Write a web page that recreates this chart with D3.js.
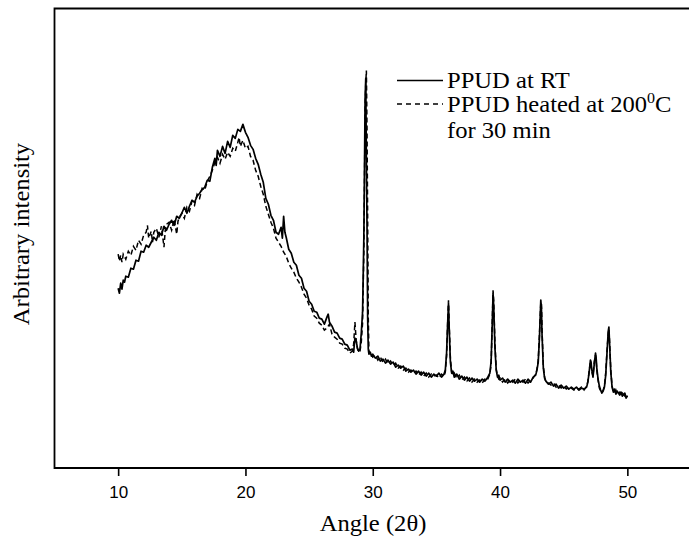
<!DOCTYPE html>
<html><head><meta charset="utf-8">
<script src="https://cdn.jsdelivr.net/npm/d3@7/dist/d3.min.js"></script>
<style>html,body{margin:0;padding:0;background:#fff;overflow:hidden}svg{display:block}</style>
</head><body>
<svg id="chart" width="689" height="538"></svg>
<script>
const xTicks = [10, 20, 30, 40, 50];
const xLabel = "Angle (2θ)";
const yLabel = "Arbitrary intensity";
const legendRT = "PPUD at RT";
const legendHeated = ["PPUD heated at 200", "0", "C"];
const legendHeated2 = "for 30 min";

// [angle (2θ), intensity (arbitrary)]
const rtData = [[10.0,180],[10.1,175],[10.2,185],[10.3,179],[10.4,188],[10.5,186],[10.6,192],[10.8,191],[11.0,200],[11.2,199],[11.4,208],[11.6,207],[11.8,217],[12.0,216],[12.2,223],[12.4,221],[12.6,226],[12.8,231],[13.0,228],[13.2,236],[13.4,233],[13.6,242],[13.8,238],[14.0,244],[14.2,248],[14.4,243],[14.6,252],[14.8,250],[15.0,255],[15.2,261],[15.4,255],[15.6,262],[15.8,268],[16.0,266],[16.2,272],[16.4,275],[16.6,279],[16.8,281],[17.0,288],[17.2,287],[17.4,301],[17.6,310],[17.7,303],[17.8,318],[18.0,312],[18.2,322],[18.4,315],[18.6,327],[18.8,321],[19.0,333],[19.2,330],[19.4,339],[19.6,337],[19.8,344],[19.9,340],[20.0,336],[20.2,331],[20.4,323],[20.6,319],[20.8,310],[21.0,304],[21.2,294],[21.4,286],[21.6,270],[21.8,264],[22.0,253],[22.2,248],[22.4,236],[22.6,234],[22.8,241],[22.9,230],[23.0,252],[23.1,236],[23.2,231],[23.4,219],[23.6,215],[23.8,206],[24.0,203],[24.2,193],[24.4,190],[24.6,180],[24.8,177],[25.0,167],[25.2,164],[25.4,157],[25.6,156],[25.8,150],[26.0,149],[26.2,144],[26.4,151],[26.5,154],[26.6,146],[26.8,142],[27.0,136],[27.2,135],[27.4,130],[27.6,129],[27.8,124],[28.0,123],[28.2,118],[28.4,119],[28.5,116],[28.6,130],[28.7,127],[28.8,120],[28.9,117],[29.0,119],[29.1,135],[29.2,156],[29.3,230],[29.4,370],[29.45,390],[29.5,310],[29.55,242],[29.6,150],[29.65,119],[29.7,114],[29.8,116],[29.9,112],[30.0,114],[30.2,110],[30.4,112],[30.6,107],[30.8,109],[31.0,105],[31.2,108],[31.4,104],[31.6,106],[31.8,101],[32.0,103],[32.2,100],[32.4,102],[32.6,97],[32.8,99],[33.0,96],[33.2,98],[33.4,94],[33.6,97],[33.8,93],[34.0,96],[34.2,92],[34.4,95],[34.6,91],[34.8,94],[35.0,92],[35.2,95],[35.4,91],[35.6,94],[35.7,98],[35.8,115],[35.9,150],[35.95,165],[36.0,142],[36.1,106],[36.2,95],[36.3,97],[36.4,91],[36.6,94],[36.8,89],[37.0,92],[37.2,88],[37.4,91],[37.6,87],[37.8,90],[38.0,87],[38.2,89],[38.4,86],[38.6,89],[38.8,87],[39.0,90],[39.2,95],[39.3,107],[39.4,150],[39.45,175],[39.5,163],[39.6,120],[39.7,98],[39.8,91],[39.9,93],[40.0,88],[40.2,90],[40.4,86],[40.6,89],[40.8,86],[41.0,88],[41.2,85],[41.4,89],[41.6,86],[41.8,88],[42.0,85],[42.2,89],[42.4,86],[42.6,91],[42.8,93],[42.9,98],[43.0,106],[43.1,132],[43.2,168],[43.25,160],[43.3,133],[43.4,100],[43.5,90],[43.6,87],[43.8,84],[44.0,86],[44.2,82],[44.4,84],[44.6,80],[44.8,83],[45.0,80],[45.2,82],[45.4,79],[45.6,81],[45.8,79],[46.0,81],[46.2,78],[46.4,80],[46.6,79],[46.8,81],[46.9,86],[47.0,96],[47.1,108],[47.15,106],[47.2,99],[47.3,91],[47.4,104],[47.5,115],[47.55,110],[47.6,100],[47.7,89],[47.8,82],[47.9,78],[48.0,75],[48.1,77],[48.2,81],[48.3,93],[48.4,115],[48.5,137],[48.55,141],[48.6,126],[48.7,96],[48.8,81],[48.9,76],[49.0,79],[49.1,74],[49.2,77],[49.4,73],[49.5,76],[49.6,72],[49.8,75],[49.9,70],[50.0,72]];

const heatedData = [[10.0,214],[10.1,207],[10.2,213],[10.3,206],[10.4,214],[10.6,209],[10.8,217],[11.0,213],[11.2,222],[11.4,218],[11.6,228],[11.8,224],[12.0,233],[12.2,236],[12.3,243],[12.4,230],[12.6,237],[12.7,226],[12.8,236],[13.0,240],[13.2,231],[13.4,242],[13.6,221],[13.7,238],[13.8,244],[14.0,246],[14.2,238],[14.4,249],[14.6,234],[14.7,247],[14.8,251],[15.0,255],[15.2,250],[15.4,261],[15.6,257],[15.8,267],[16.0,263],[16.2,274],[16.4,270],[16.6,280],[16.8,278],[17.0,287],[17.2,292],[17.4,298],[17.6,306],[17.8,311],[18.0,305],[18.2,314],[18.4,309],[18.6,316],[18.8,312],[19.0,320],[19.2,317],[19.4,326],[19.5,331],[19.6,322],[19.8,328],[20.0,320],[20.2,322],[20.4,312],[20.6,308],[20.8,298],[21.0,292],[21.2,282],[21.4,274],[21.6,262],[21.8,254],[22.0,246],[22.2,240],[22.4,230],[22.6,226],[22.8,222],[23.0,216],[23.2,212],[23.4,205],[23.6,200],[23.8,196],[24.0,190],[24.2,186],[24.4,181],[24.6,174],[24.8,170],[25.0,163],[25.2,159],[25.4,152],[25.6,150],[25.8,145],[26.0,143],[26.2,138],[26.4,140],[26.6,144],[26.8,134],[27.0,131],[27.2,129],[27.4,125],[27.6,124],[27.8,120],[28.0,119],[28.2,115],[28.4,117],[28.5,124],[28.6,146],[28.7,128],[28.8,119],[28.9,116],[29.0,117],[29.1,126],[29.2,145],[29.3,215],[29.4,360],[29.45,385],[29.5,398],[29.55,340],[29.6,250],[29.65,150],[29.7,118],[29.8,113],[29.9,114],[30.0,111],[30.2,113],[30.4,108],[30.6,111],[30.8,106],[31.0,109],[31.2,104],[31.4,107],[31.6,103],[31.8,105],[32.0,100],[32.2,102],[32.4,98],[32.6,100],[32.8,96],[33.0,98],[33.2,95],[33.4,97],[33.6,93],[33.8,96],[34.0,92],[34.2,95],[34.4,91],[34.6,94],[34.8,92],[35.0,93],[35.2,90],[35.4,94],[35.6,92],[35.7,96],[35.8,112],[35.9,152],[35.95,168],[36.0,146],[36.1,110],[36.2,96],[36.3,93],[36.4,95],[36.6,90],[36.8,93],[37.0,88],[37.2,91],[37.4,87],[37.6,90],[37.8,86],[38.0,89],[38.2,86],[38.4,88],[38.6,85],[38.8,89],[39.0,88],[39.2,94],[39.3,104],[39.4,152],[39.45,178],[39.5,168],[39.6,125],[39.7,99],[39.8,92],[39.9,89],[40.0,90],[40.2,86],[40.4,89],[40.6,85],[40.8,88],[41.0,86],[41.2,89],[41.4,85],[41.6,88],[41.8,86],[42.0,89],[42.2,85],[42.4,88],[42.6,90],[42.8,94],[42.9,99],[43.0,108],[43.1,135],[43.2,165],[43.25,166],[43.3,138],[43.4,102],[43.5,91],[43.6,86],[43.8,85],[44.0,83],[44.2,85],[44.4,81],[44.6,83],[44.8,80],[45.0,82],[45.2,79],[45.4,81],[45.6,80],[45.8,78],[46.0,80],[46.2,79],[46.4,81],[46.6,78],[46.8,82],[46.9,87],[47.0,97],[47.1,106],[47.15,104],[47.2,97],[47.3,92],[47.4,106],[47.5,113],[47.55,108],[47.6,98],[47.7,88],[47.8,80],[47.9,77],[48.0,76],[48.1,78],[48.2,82],[48.3,95],[48.4,117],[48.5,135],[48.55,139],[48.6,128],[48.7,98],[48.8,82],[48.9,77],[49.0,75],[49.1,78],[49.2,74],[49.4,76],[49.5,73],[49.6,75],[49.8,72],[49.9,74],[50.0,71]];

const svg = d3.select("#chart");
const L = 54.5, T = 8.5, R = 689, B = 468;
const x = d3.scaleLinear().domain([5, 55]).range([L, 691]);
const y = d3.scaleLinear().domain([0, 460]).range([B, T]);
const serif = "'Liberation Serif','Times New Roman',serif";
const fs = 23, sx = 1.07;

// frame: top, left, bottom (right side lies outside the picture)
svg.append("path").attr("d", `M${R},${T}H${L}V${B}H${R}`)
  .attr("fill", "none").attr("stroke", "#000").attr("stroke-width", 1.8);

// x axis
const ax = svg.append("g").attr("transform", `translate(0,${B})`)
  .call(d3.axisBottom(x).tickValues(xTicks).tickSize(8).tickSizeOuter(0).tickFormat(d3.format("d")));
ax.select(".domain").remove();
ax.selectAll(".tick line").attr("stroke", "#000").attr("stroke-width", 1.6);
ax.selectAll(".tick text").attr("y", 30).attr("dy", 0)
  .attr("font-family", "'Liberation Sans',Arial,sans-serif").attr("font-size", 17).attr("fill", "#000");

// axis titles
svg.append("g").attr("transform", `translate(373,531) scale(${sx},1)`)
  .append("text").attr("text-anchor", "middle").attr("font-family", serif).attr("font-size", fs)
  .attr("fill", "#000").text(xLabel);
svg.append("g").attr("transform", `translate(29,234) rotate(-90) scale(${sx},1)`)
  .append("text").attr("text-anchor", "middle").attr("font-family", serif).attr("font-size", fs)
  .attr("fill", "#000").text(yLabel);

// curves
const line = d3.line().x(d => x(d[0])).y(d => y(d[1]));
svg.append("path").datum(heatedData).attr("d", line).attr("fill", "none")
  .attr("stroke", "#000").attr("stroke-width", 1.5).attr("stroke-dasharray", "5,3");
svg.append("path").datum(rtData).attr("d", line).attr("fill", "none")
  .attr("stroke", "#000").attr("stroke-width", 1.7).attr("stroke-linejoin", "round");

// legend
svg.append("line").attr("x1", 397).attr("x2", 443).attr("y1", 80.5).attr("y2", 80.5)
  .attr("stroke", "#000").attr("stroke-width", 1.3);
svg.append("line").attr("x1", 397).attr("x2", 443).attr("y1", 104).attr("y2", 104)
  .attr("stroke", "#000").attr("stroke-width", 1.3).attr("stroke-dasharray", "5,4");
const lg = svg.append("g").attr("transform", `translate(447,0) scale(${sx},1)`)
  .attr("font-family", serif).attr("font-size", fs).attr("fill", "#000");
lg.append("text").attr("x", 0).attr("y", 88).text(legendRT);
const t2 = lg.append("text").attr("x", 0).attr("y", 112);
t2.append("tspan").text(legendHeated[0]);
t2.append("tspan").attr("font-size", 15).attr("dy", -9).text(legendHeated[1]);
t2.append("tspan").attr("dy", 9).text(legendHeated[2]);
lg.append("text").attr("x", 0).attr("y", 138).text(legendHeated2);
</script>
</body></html>
